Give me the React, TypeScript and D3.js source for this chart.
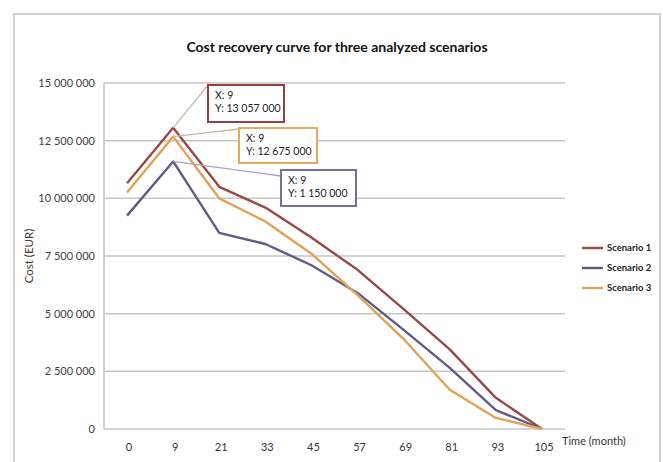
import React from 'react'
import * as d3 from 'd3'

// months on the x axis (category axis, evenly spaced)
const months = ['0', '9', '21', '33', '45', '57', '69', '81', '93', '105']

// cost (EUR) per scenario
const scenario1 = [10650000, 13057000, 10500000, 9600000, 8300000, 6900000, 5200000, 3450000, 1350000, 0]
const scenario2 = [9250000, 11600000, 8500000, 8020000, 7100000, 5900000, 4300000, 2650000, 820000, 0]
const scenario3 = [10250000, 12675000, 10000000, 9000000, 7600000, 5800000, 3900000, 1700000, 480000, 0]

const seriesNames = ['Scenario 1', 'Scenario 2', 'Scenario 3']
const colors = ['#9a4747', '#5f5a88', '#e2a159']
const yTicks = [0, 2500000, 5000000, 7500000, 10000000, 12500000, 15000000]

// data labels shown in the callouts (text as printed in the original)
const calloutX = ['X: 9', 'X: 9', 'X: 9']
const calloutY = ['Y: 13 057 000', 'Y: 1 150 000', 'Y: 12 675 000']

const fmt = (v: number) => d3.format(',')(v).replace(/,/g, ' ')

export default function App() {
  const width = 663
  const height = 462
  const left = 104, right = 565, top = 83, bottom = 429
  const font = 'Lato, "Open Sans", sans-serif'

  const xb = d3.scaleBand().domain(months).range([left, right])
  const x = (m: string) => (xb(m) as number) + xb.bandwidth() / 2
  const y = d3.scaleLinear().domain([0, 15000000]).range([bottom, top])

  const series = [scenario1, scenario2, scenario3]
  const line = d3.line<number>()
    .x((_, i) => x(months[i]))
    .y(d => y(d))

  // callout boxes and where the leader line meets them
  const boxes = [
    { bx: 208, by: 85, w: 76, h: 37, lx: 208, ly: 85, stroke: '#963f3f', leader: '#c9bca6' },
    { bx: 281, by: 170, w: 75, h: 36, lx: 281, ly: 176, stroke: '#77709a', leader: '#a9a3c3' },
    { bx: 239, by: 128, w: 78, h: 35, lx: 239, ly: 129, stroke: '#e6a95f', leader: '#cdbb9c' },
  ]

  return (
    <svg width={width} height={height} style={{ position: 'absolute', left: 0, top: 0, background: '#fff' }}>
      <rect x={14} y={14} width={646} height={470} fill="#fff" stroke="#c4c4c4" strokeWidth={1.5} />

      <text x={337} y={52} textAnchor="middle" fontFamily={font} fontWeight="bold" fontSize={14} fill="#111">
        Cost recovery curve for three analyzed scenarios
      </text>

      {yTicks.map(t => (
        <g key={t}>
          <line x1={left} x2={right} y1={y(t)} y2={y(t)} stroke="#c6c6c6" strokeWidth={1.5} />
          <text x={95} y={y(t) + 4} textAnchor="end" fontFamily={font} fontSize={11} fill="#404040">
            {fmt(t)}
          </text>
        </g>
      ))}
      <line x1={left} x2={left} y1={top} y2={bottom} stroke="#c0c0c0" strokeWidth={1.5} />

      {months.map(m => (
        <text key={m} x={x(m) + 2} y={451} textAnchor="middle" fontFamily={font} fontSize={11} fill="#333">
          {m}
        </text>
      ))}
      <text x={562} y={445} fontFamily={font} fontSize={11} fill="#333">Time (month)</text>

      <text transform={`translate(33, ${(top + bottom) / 2}) rotate(-90)`} textAnchor="middle"
        fontFamily={font} fontSize={11.5} fill="#404040">Cost (EUR)</text>

      {series.map((s, i) => (
        <path key={i} d={line(s) as string} fill="none" stroke={colors[i]} strokeWidth={2.4} strokeLinejoin="round" />
      ))}

      {boxes.map((b, i) => {
        const peak = series[i][1]
        return (
          <g key={i}>
            <line x1={x(months[1])} y1={y(peak)} x2={b.lx} y2={b.ly} stroke={b.leader} strokeWidth={1.3} />
            <rect x={b.bx} y={b.by} width={b.w} height={b.h} fill="#fff" stroke={b.stroke} strokeWidth={2} />
            <text x={b.bx + 7} y={b.by + 14} fontFamily={font} fontSize={10.5} fill="#222">{calloutX[i]}</text>
            <text x={b.bx + 7} y={b.by + 27} fontFamily={font} fontSize={10.5} fill="#222">{calloutY[i]}</text>
          </g>
        )
      })}

      {seriesNames.map((n, i) => (
        <g key={n}>
          <line x1={582} x2={603} y1={248 + i * 20} y2={248 + i * 20} stroke={colors[i]} strokeWidth={2.4} />
          <text x={607} y={251 + i * 20} fontFamily={font} fontWeight="bold" fontSize={9.5} fill="#222">{n}</text>
        </g>
      ))}
    </svg>
  )
}
